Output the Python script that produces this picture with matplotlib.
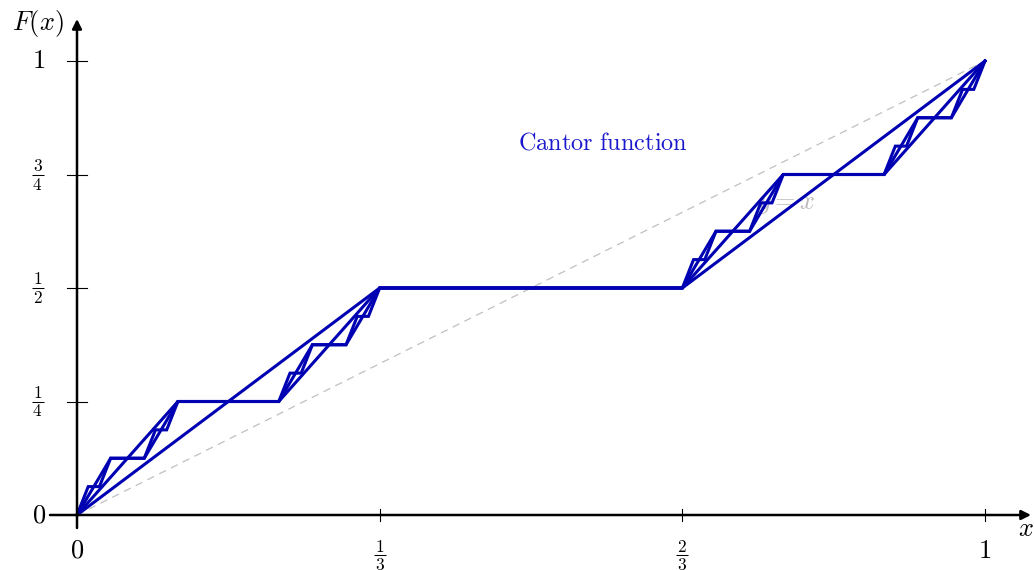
import matplotlib
matplotlib.use("Agg")
import matplotlib.pyplot as plt

plt.rcParams['mathtext.fontset'] = 'cm'
plt.rcParams['font.family'] = ['DejaVu Serif']

# Cantor function approximations: vertices as integer numerators
# x = xn / 3^n, y = yn / 2^n
iter1_x = [0, 1, 2, 3]
iter1_y = [0, 1, 1, 2]
iter2_x = [0, 1, 2, 3, 6, 7, 8, 9]
iter2_y = [0, 1, 1, 2, 2, 3, 3, 4]
iter3_x = [0, 1, 2, 3, 6, 7, 8, 9, 18, 19, 20, 21, 24, 25, 26, 27]
iter3_y = [0, 1, 1, 2, 2, 3, 3, 4, 4, 5, 5, 6, 6, 7, 7, 8]
iter4_x = [0, 1, 2, 3, 6, 7, 8, 9, 18, 19, 20, 21, 24, 25, 26, 27,
           54, 55, 56, 57, 60, 61, 62, 63, 72, 73, 74, 75, 78, 79, 80, 81]
iter4_y = [0, 1, 1, 2, 2, 3, 3, 4, 4, 5, 5, 6, 6, 7, 7, 8,
           8, 9, 9, 10, 10, 11, 11, 12, 12, 13, 13, 14, 14, 15, 15, 16]
iterations = [(iter1_x, iter1_y, 3, 2), (iter2_x, iter2_y, 9, 4),
              (iter3_x, iter3_y, 27, 8), (iter4_x, iter4_y, 81, 16)]

identity_x = [0, 1]
identity_y = [0, 1]

x_ticks = [1/3, 2/3, 1]
x_tick_labels = [('1', '3'), ('2', '3'), '1']
y_ticks = [1/4, 1/2, 3/4, 1]
y_tick_labels = [('1', '4'), ('1', '2'), ('3', '4'), '1']

W, H = 1034, 570
x0px, x1px = 77, 985
y0px, y1px = 515, 61
sx = x1px - x0px
sy = y0px - y1px

fig = plt.figure(figsize=(W / 100, H / 100), dpi=100)
ax = fig.add_axes([0, 0, 1, 1])
ax.set_xlim(-x0px / sx, (W - x0px) / sx)
ax.set_ylim(-(H - y0px) / sy, y0px / sy)
ax.axis('off')

def px2x(p):
    return (p - x0px) / sx

def px2y(p):
    return (y0px - p) / sy

blue = '#0000B3'
FS = 19
FS_FRAC = 12.5

def draw_frac(cx_px, bar_px, num, den):
    ax.text(px2x(cx_px), px2y(bar_px - 3.5), '$' + num + '$', fontsize=FS_FRAC,
            ha='center', va='baseline')
    ax.plot([px2x(cx_px - 6), px2x(cx_px + 6)], [px2y(bar_px), px2y(bar_px)],
            color='black', lw=0.75, solid_capstyle='butt')
    ax.text(px2x(cx_px), px2y(bar_px + 15), '$' + den + '$', fontsize=FS_FRAC,
            ha='center', va='baseline')

# y = x dashed
ax.plot(identity_x, identity_y, color='#C0C0C0', lw=0.9, ls=(0, (6, 4.5)), zorder=1)
ax.text(px2x(786), px2y(204), r'$y = x$', color='#BBBBBB', fontsize=FS, ha='center', va='center', zorder=1)

for xs, ys, dx, dy in iterations:
    ax.plot([v / dx for v in xs], [v / dy for v in ys], color=blue, lw=2.2,
            solid_joinstyle='miter', zorder=3)

ax.text(px2x(603), px2y(143), r'$\mathrm{Cantor\ function}$', color='#1a1acc', fontsize=17.5,
        ha='center', va='center', zorder=4)

# axes with arrows
ax.annotate('', xy=(px2x(1031), 0), xytext=(px2x(50), 0),
            arrowprops=dict(arrowstyle='-|>', lw=1.8, color='black', mutation_scale=14,
                            shrinkA=0, shrinkB=0), zorder=5)
ax.annotate('', xy=(0, px2y(19)), xytext=(0, px2y(528)),
            arrowprops=dict(arrowstyle='-|>', lw=1.8, color='black', mutation_scale=14,
                            shrinkA=0, shrinkB=0), zorder=5)

tx = 10 / sx
ty = 6 / sy
for xv, lab in zip(x_ticks, x_tick_labels):
    ax.plot([xv, xv], [-ty, ty], color='black', lw=0.8, zorder=5)
    if isinstance(lab, tuple):
        draw_frac(x0px + xv * sx, 555, lab[0], lab[1])
    else:
        ax.text(xv, px2y(550), '$' + lab + '$', fontsize=FS, ha='center', va='center')
for yv, lab in zip(y_ticks, y_tick_labels):
    ax.plot([-tx, tx], [yv, yv], color='black', lw=0.8, zorder=5)
    if isinstance(lab, tuple):
        draw_frac(37.5, y0px - yv * sy, lab[0], lab[1])
    else:
        ax.text(px2x(39), yv, '$' + lab + '$', fontsize=FS, ha='center', va='center')

ax.text(px2x(39), 0, r'$0$', fontsize=FS, ha='center', va='center')
ax.text(0, px2y(550), r'$0$', fontsize=FS, ha='center', va='center')
ax.text(px2x(1026), px2y(529), r'$x$', fontsize=FS, ha='center', va='center')
ax.text(px2x(38), px2y(24), r'$F(x)$', fontsize=FS, ha='center', va='center')

fig.savefig('out.png', dpi=100)
